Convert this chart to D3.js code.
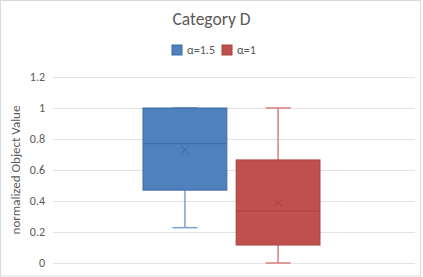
<!DOCTYPE html>
<html lang="en">
<head>
  <meta charset="UTF-8" />
  <title>Category D</title>
  <style>
    html, body { margin: 0; padding: 0; background: #fff; }
    svg { display: block; font-family: Calibri, Carlito, "Open Sans", sans-serif; }
  </style>
</head>
<body>
  <script src="https://d3js.org/d3.v7.min.js"></script>
  <script>
    const categories = ["Category D"];
    const seriesNames = ["α=1.5", "α=1"];
    const seriesColors = ["#4f81bd", "#c0504d"];
    const seriesStroke = ["#3d6ba6", "#a84441"];
    const seriesWhisker = ["#7aa2d4", "#d6807d"];
    // min, q1, median, q3, max, mean
    const mins = [0.228, 0];
    const q1s = [0.47, 0.116];
    const medians = [0.77, 0.335];
    const q3s = [1.0, 0.665];
    const maxs = [1.0, 1.0];
    const means = [0.73, 0.39];
    const yTicks = [0, 0.2, 0.4, 0.6, 0.8, 1, 1.2];

    const W = 423, H = 277;
    const margin = { top: 77, right: 8, bottom: 14, left: 53 };

    const svg = d3.select("body").append("svg").attr("width", W).attr("height", H);

    svg.append("rect").attr("x", 0.5).attr("y", 0.5).attr("width", W - 3).attr("height", H - 1.5)
      .attr("fill", "#fff").attr("stroke", "#d9d9d9");

    const y = d3.scaleLinear().domain([0, 1.2]).range([263, 77]);
    const x = d3.scaleBand().domain(categories).range([margin.left, W - margin.right]);
    const xs = d3.scaleBand().domain(seriesNames)
      .range([x(categories[0]) + 90, x(categories[0]) + x.bandwidth() - 95]).paddingInner(0.1);

    // gridlines
    svg.append("g").selectAll("line").data(yTicks).join("line")
      .attr("x1", margin.left).attr("x2", W - margin.right)
      .attr("y1", d => Math.round(y(d)) + 0.5).attr("y2", d => Math.round(y(d)) + 0.5)
      .attr("stroke", "#e3e3e3").attr("stroke-width", 1);

    // y axis labels
    svg.append("g").selectAll("text").data(yTicks).join("text")
      .attr("x", 45).attr("y", d => y(d)).attr("dy", "0.35em")
      .attr("text-anchor", "end").attr("fill", "#595959").style("font-size", "12px")
      .text(d => d);

    svg.append("text")
      .attr("transform", `translate(20,${(y(0) + y(1.2)) / 2}) rotate(-90)`)
      .attr("text-anchor", "middle").attr("fill", "#595959").style("font-size", "13px")
      .text("normalized Object Value");

    // title
    svg.append("text").attr("x", W / 2).attr("y", 25).attr("text-anchor", "middle")
      .attr("fill", "#595959").style("font-size", "17.5px").text(categories[0]);

    // legend
    const legend = svg.append("g");
    const legendX = [172, 222];
    seriesNames.forEach((s, i) => {
      legend.append("rect").attr("x", legendX[i]).attr("y", 45).attr("width", 10).attr("height", 10)
        .attr("fill", seriesColors[i]).attr("stroke", seriesStroke[i]);
      legend.append("text").attr("x", legendX[i] + 15).attr("y", 50).attr("dy", "0.35em")
        .attr("fill", "#595959").style("font-size", "12px").text(s);
    });

    // boxes
    const g = svg.append("g");
    seriesNames.forEach((s, i) => {
      const x0 = xs(s), bw = xs.bandwidth(), cx = x0 + bw / 2;
      const capW = bw * 0.3;
      // whiskers
      g.append("line").attr("x1", cx).attr("x2", cx).attr("y1", y(maxs[i])).attr("y2", y(q3s[i]))
        .attr("stroke", seriesWhisker[i]).attr("stroke-width", 1.5);
      g.append("line").attr("x1", cx).attr("x2", cx).attr("y1", y(q1s[i])).attr("y2", y(mins[i]))
        .attr("stroke", seriesWhisker[i]).attr("stroke-width", 1.5);
      [maxs[i], mins[i]].forEach(v => {
        g.append("line").attr("x1", cx - capW / 2).attr("x2", cx + capW / 2)
          .attr("y1", y(v)).attr("y2", y(v))
          .attr("stroke", seriesWhisker[i]).attr("stroke-width", 1.5);
      });
      // box
      g.append("rect").attr("x", x0).attr("y", y(q3s[i])).attr("width", bw)
        .attr("height", y(q1s[i]) - y(q3s[i]))
        .attr("fill", seriesColors[i]).attr("stroke", seriesStroke[i]).attr("stroke-width", 1);
      // median
      g.append("line").attr("x1", x0).attr("x2", x0 + bw).attr("y1", y(medians[i])).attr("y2", y(medians[i]))
        .attr("stroke", seriesStroke[i]).attr("stroke-width", 1);
      // mean marker
      const m = 4, my = y(means[i]);
      g.append("path").attr("d", `M${cx - m},${my - m}L${cx + m},${my + m}M${cx - m},${my + m}L${cx + m},${my - m}`)
        .attr("stroke", seriesStroke[i]).attr("stroke-width", 1).attr("fill", "none");
    });
  </script>
</body>
</html>
